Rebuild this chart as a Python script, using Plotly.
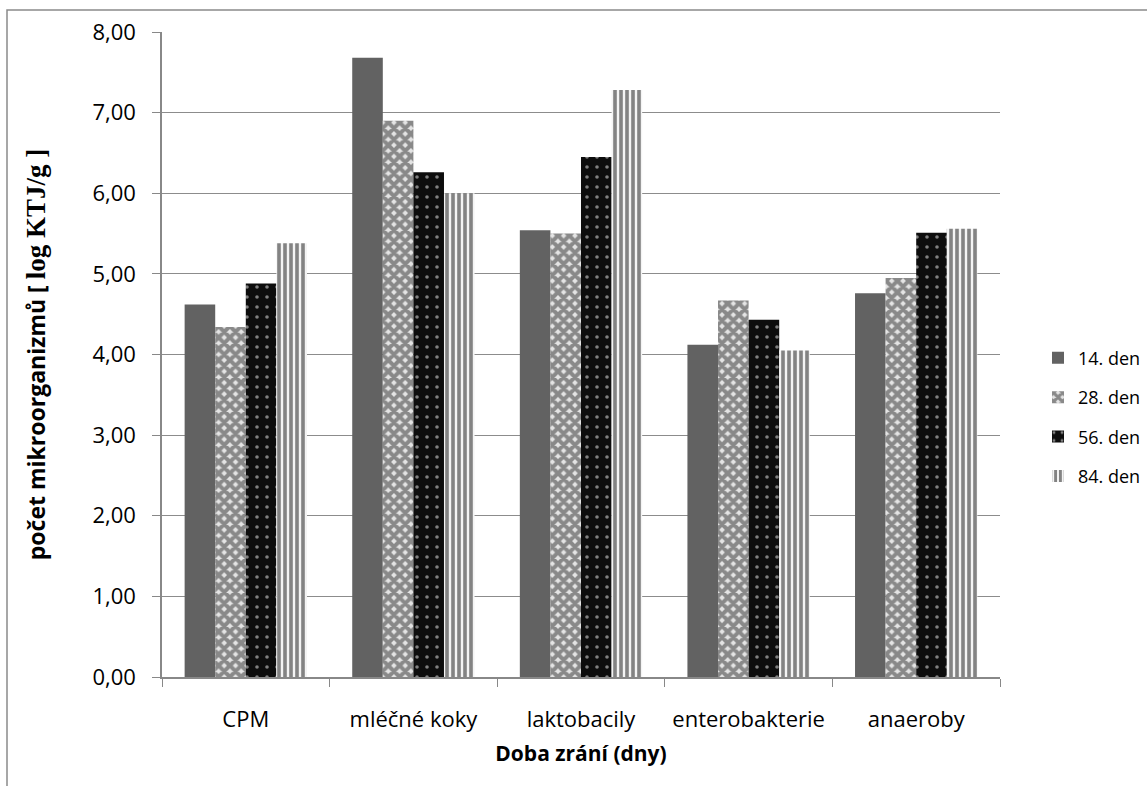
import plotly.graph_objects as go

categories = ["CPM", "mléčné koky", "laktobacily", "enterobakterie", "anaeroby"]
series_names = ["14. den", "28. den", "56. den", "84. den"]
den14 = [4.62, 7.68, 5.54, 4.12, 4.76]
den28 = [4.34, 6.90, 5.50, 4.67, 4.95]
den56 = [4.88, 6.26, 6.45, 4.43, 5.51]
den84 = [5.38, 6.00, 7.28, 4.05, 5.56]
y_ticks = [0, 1, 2, 3, 4, 5, 6, 7, 8]

FONT = "Open Sans"

styles = [
    dict(color="#626262", pattern=None),
    dict(color="white", pattern=dict(shape="x", fgcolor="#2e2e2e", bgcolor="#e4e4e4", size=8, solidity=0.75)),
    dict(color="#0d0d0d", pattern=dict(shape=".", fgcolor="#f4f4f4", bgcolor="#0d0d0d", size=10, solidity=0.1)),
    dict(color="white", pattern=dict(shape="|", fgcolor="#111111", bgcolor="#f4f4f4", size=6, solidity=0.6)),
]

fig = go.Figure()
for name, vals, st in zip(series_names, [den14, den28, den56, den84], styles):
    marker = dict(color=st["color"], line=dict(width=0))
    if st["pattern"]:
        marker["pattern"] = st["pattern"]
    fig.add_trace(go.Bar(name=name, x=categories, y=vals, marker=marker, legendgroup=name))

fig.update_layout(
    width=1147, height=786,
    barmode="group", bargap=0.27, bargroupgap=0,
    separators=",.",
    paper_bgcolor="white", plot_bgcolor="white",
    margin=dict(l=162, r=147, t=32, b=109, autoexpand=False),
    font=dict(family=FONT, size=21, color="black"),
    legend=dict(x=(1038 - 162) / 838, xanchor="left", y=0.403, yanchor="middle",
                font=dict(size=18), tracegroupgap=13, itemwidth=30,
                bgcolor="rgba(0,0,0,0)"),
    xaxis=dict(
        type="category", tickson="boundaries", ticks="outside", ticklen=8,
        tickcolor="#888888", showline=True, linecolor="#888888", linewidth=1.5,
        showgrid=False, ticklabelstandoff=22, tickfont=dict(size=22),
        title=dict(text="<b>Doba zrání (dny)</b>", font=dict(size=21), standoff=14),
    ),
    yaxis=dict(
        range=[0, 8], tickvals=y_ticks, tickformat=".2f", ticks="outside", ticklen=8,
        tickcolor="#888888", showline=True, linecolor="#888888", linewidth=1.5,
        showgrid=True, gridcolor="#8c8c8c", gridwidth=1, zeroline=False,
        ticklabelstandoff=12, tickfont=dict(size=22),
        title=dict(text="<b>počet mikroorganizmů [ <span style='font-family:Liberation Serif;font-size:27px'>log KTJ/g ]</span></b>",
                   font=dict(size=23), standoff=40),
    ),
    shapes=[dict(type="rect", xref="paper", yref="paper",
                 x0=(7 - 162) / 838, x1=1.5, y0=-0.5, y1=(677 - 10) / 645,
                 line=dict(color="#8a8a8a", width=1.5), fillcolor="rgba(0,0,0,0)", layer="below")],
)

fig.write_html("out.html")
